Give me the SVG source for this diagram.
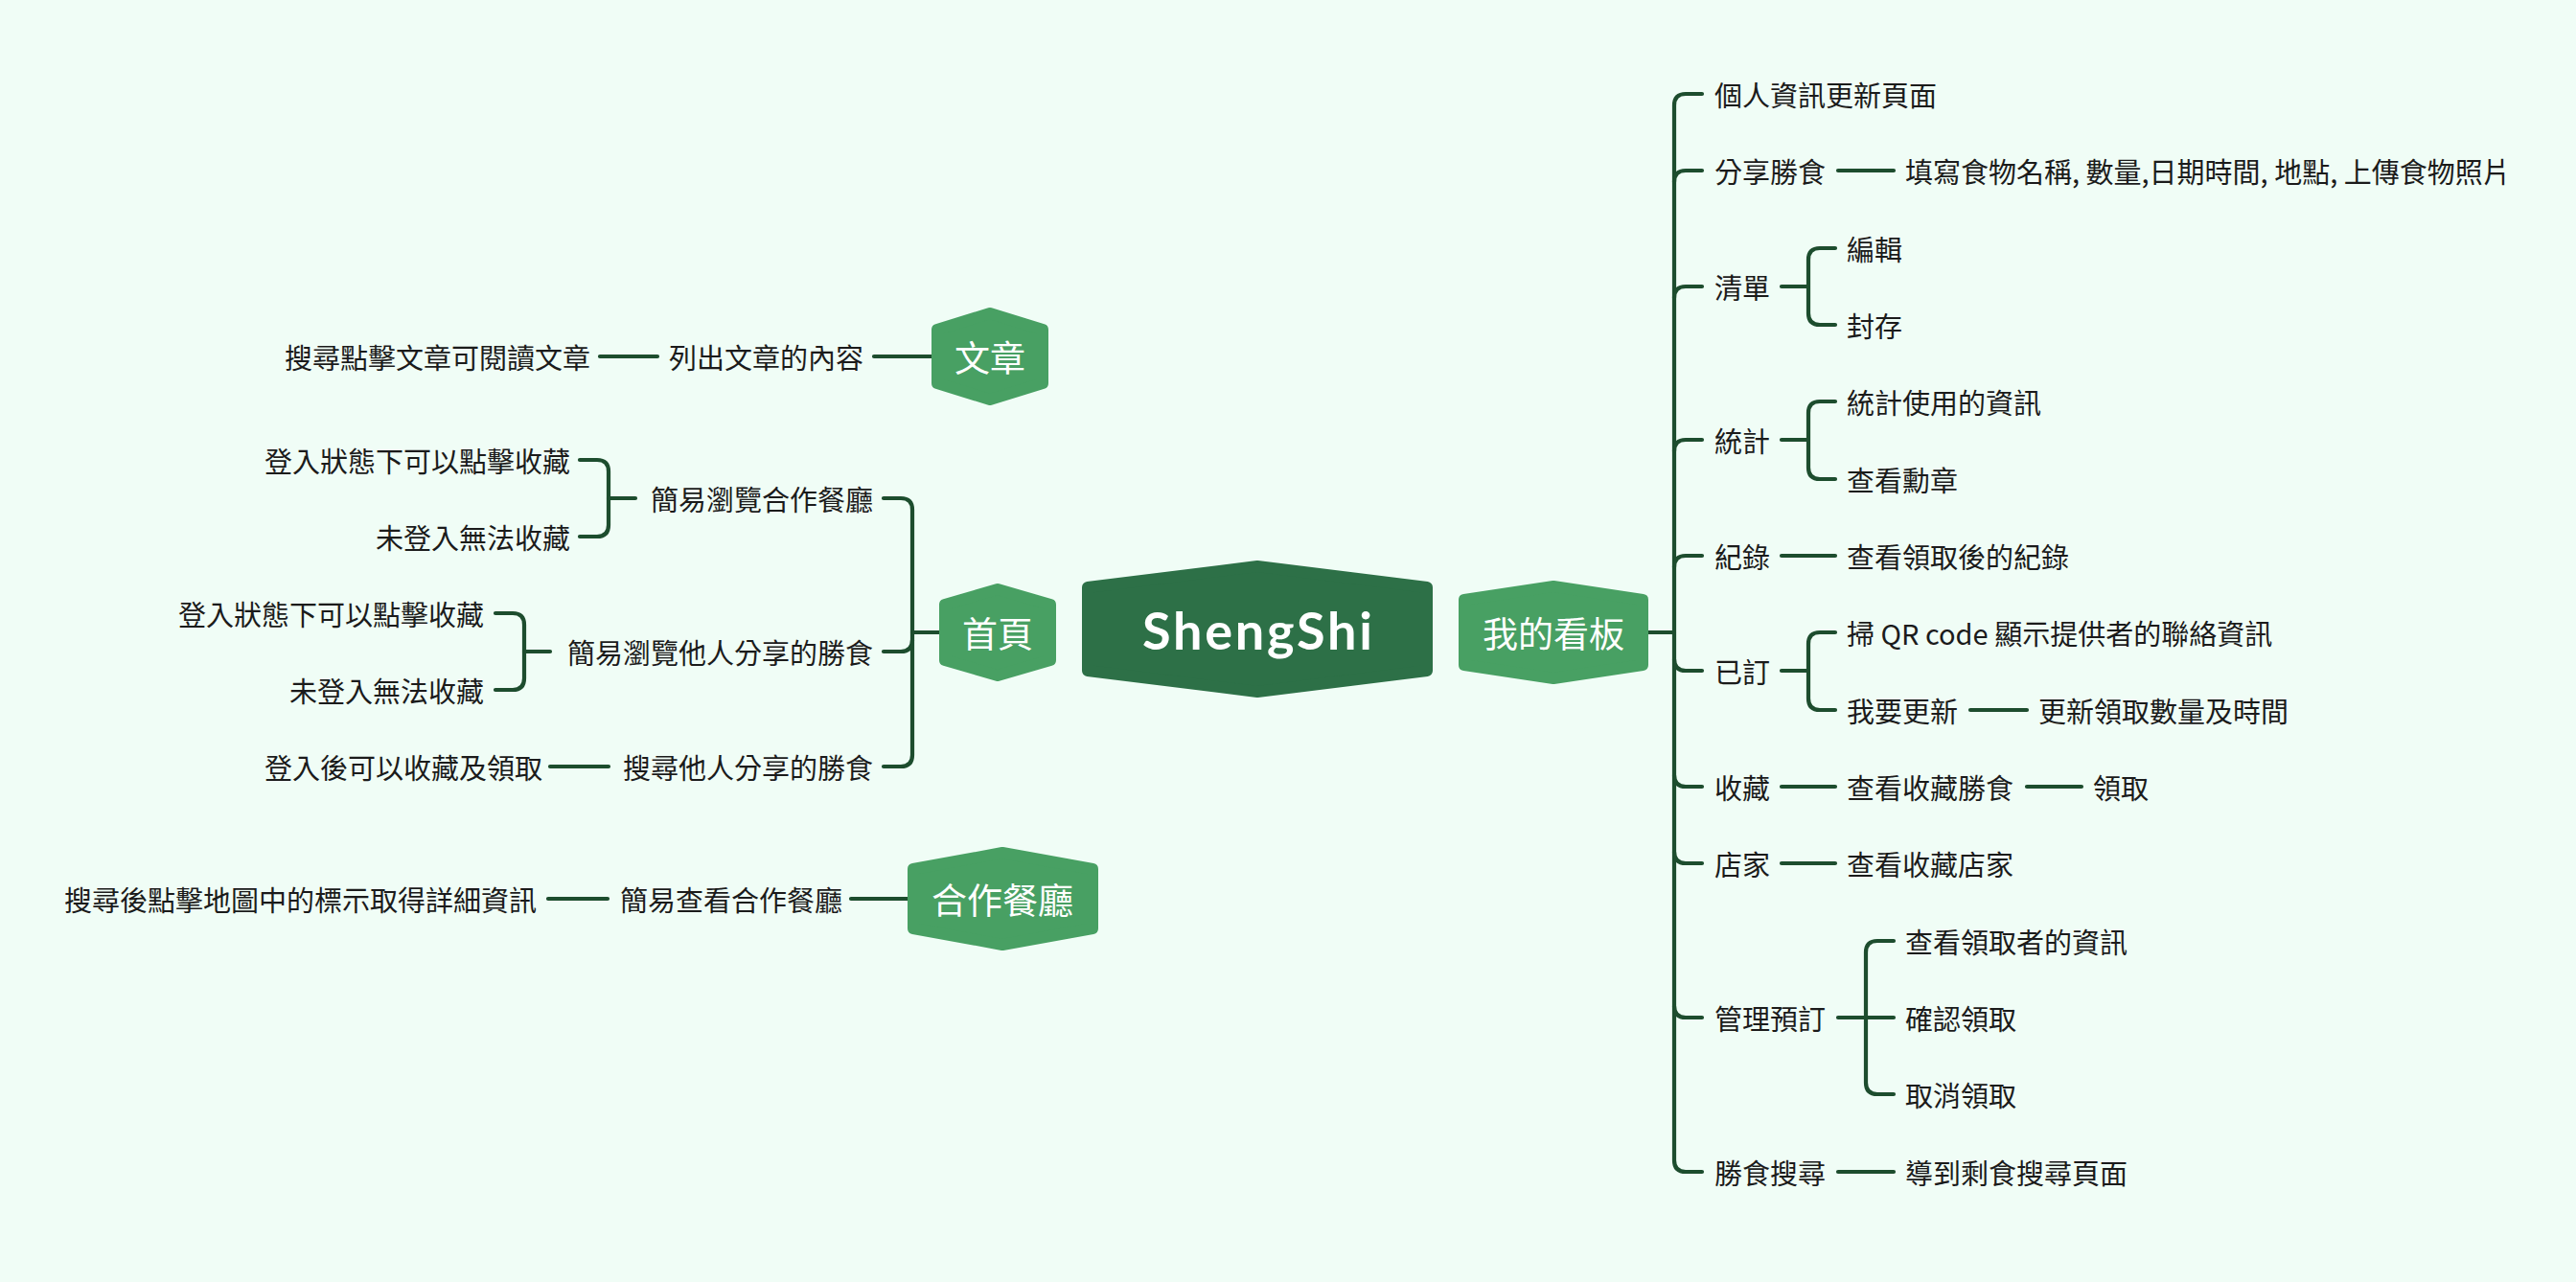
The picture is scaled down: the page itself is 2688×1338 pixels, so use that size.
<svg xmlns="http://www.w3.org/2000/svg" width="2688" height="1338" viewBox="0 0 2688 1338">
<style>
.t{font-family:"Noto Sans CJK TC","Noto Sans",sans-serif;font-size:29px;fill:#1b1b1b;dominant-baseline:central}
.e{text-anchor:end}
.c{fill:none;stroke:#1d4d2e;stroke-width:4.2;stroke-linecap:round;stroke-linejoin:round}
.m{fill:#48a063;stroke:#48a063;stroke-width:12;stroke-linejoin:round}
.mt{font-family:"Noto Sans CJK TC","Noto Sans",sans-serif;font-size:37px;fill:#ffffff;text-anchor:middle;dominant-baseline:central}
</style>
<rect width="2688" height="1338" fill="#f0fdf6"/>
<g id="connectors">
<path class="c" d="M972,372 H912 M686,372 H626"/>
<path class="c" d="M981,660 H952"/>
<path class="c" d="M922,520 H940 Q952,520 952,532 V788 Q952,800 940,800 H922"/>
<path class="c" d="M922,680 H940 Q952,680 952,668"/>
<path class="c" d="M663,520 H635"/>
<path class="c" d="M605,480 H623 Q635,480 635,492 V548 Q635,560 623,560 H605"/>
<path class="c" d="M574,680 H547"/>
<path class="c" d="M517,640 H535 Q547,640 547,652 V708 Q547,720 535,720 H517"/>
<path class="c" d="M635,800 H574"/>
<path class="c" d="M947,938 H888 M634,938 H572"/>
<path class="c" d="M1720,660 H1747"/>
<path class="c" d="M1776,98 H1759 Q1747,98 1747,110 V1211 Q1747,1223 1759,1223 H1776"/>
<path class="c" d="M1747,190 Q1747,178 1759,178 H1776"/>
<path class="c" d="M1747,311 Q1747,299 1759,299 H1776"/>
<path class="c" d="M1747,471 Q1747,459 1759,459 H1776"/>
<path class="c" d="M1747,592 Q1747,580 1759,580 H1776"/>
<path class="c" d="M1747,688 Q1747,700 1759,700 H1776"/>
<path class="c" d="M1747,809 Q1747,821 1759,821 H1776"/>
<path class="c" d="M1747,889 Q1747,901 1759,901 H1776"/>
<path class="c" d="M1747,1050 Q1747,1062 1759,1062 H1776"/>
<path class="c" d="M1918,178 H1976"/>
<path class="c" d="M1859,299 H1887 M1915,259 H1899 Q1887,259 1887,271 V327 Q1887,339 1899,339 H1915"/>
<path class="c" d="M1859,459 H1887 M1915,419 H1899 Q1887,419 1887,431 V488 Q1887,500 1899,500 H1915"/>
<path class="c" d="M1859,580 H1915"/>
<path class="c" d="M1859,700 H1887 M1915,660 H1899 Q1887,660 1887,672 V729 Q1887,741 1899,741 H1915"/>
<path class="c" d="M2056,741 H2115"/>
<path class="c" d="M1859,821 H1915 M2115,821 H2172"/>
<path class="c" d="M1859,901 H1915"/>
<path class="c" d="M1918,1062 H1976 M1976,982 H1959 Q1947,982 1947,994 V1130 Q1947,1142 1959,1142 H1976"/>
<path class="c" d="M1918,1223 H1976"/>
</g>
<g id="center">
<polygon points="1135,613 1312,591 1489,613 1489,700 1312,722 1135,700" fill="#2d7047" stroke="#2d7047" stroke-width="12" stroke-linejoin="round"/>
<text x="1312" y="657" font-family="Lato,'Open Sans',sans-serif" font-weight="700" font-size="54" fill="#ffffff" text-anchor="middle" dominant-baseline="central" textLength="240" lengthAdjust="spacing">ShengShi</text>
</g>
<g id="n-board">
<polygon class="m" points="1528,626 1621,612 1714,626 1714,694 1621,708 1528,694"/>
<text class="mt" x="1621" y="660">我的看板</text>
</g>
<g id="n-article">
<polygon class="m" points="978,344 1033,327 1088,344 1088,400 1033,417 978,400"/>
<text class="mt" x="1033" y="372">文章</text>
</g>
<g id="n-home">
<polygon class="m" points="986,631 1041,615 1096,631 1096,689 1041,705 986,689"/>
<text class="mt" x="1041" y="660">首頁</text>
</g>
<g id="n-rest">
<polygon class="m" points="953,907 1046,890 1140,907 1140,969 1046,986 953,969"/>
<text class="mt" x="1046" y="938">合作餐廳</text>
</g>
<g id="left-labels">
<g id="l1"><text class="t e" x="901" y="372">列出文章的內容</text></g>
<g id="l2"><text class="t e" x="616" y="372">搜尋點擊文章可閱讀文章</text></g>
<g id="l3"><text class="t e" x="911" y="520">簡易瀏覽合作餐廳</text></g>
<g id="l4"><text class="t e" x="595" y="480">登入狀態下可以點擊收藏</text></g>
<g id="l5"><text class="t e" x="595" y="560">未登入無法收藏</text></g>
<g id="l6"><text class="t e" x="911" y="680">簡易瀏覽他人分享的勝食</text></g>
<g id="l7"><text class="t e" x="505" y="640">登入狀態下可以點擊收藏</text></g>
<g id="l8"><text class="t e" x="505" y="720">未登入無法收藏</text></g>
<g id="l9"><text class="t e" x="911" y="800">搜尋他人分享的勝食</text></g>
<g id="l10"><text class="t e" x="566" y="800">登入後可以收藏及領取</text></g>
<g id="l11"><text class="t e" x="879" y="938">簡易查看合作餐廳</text></g>
<g id="l12"><text class="t e" x="560" y="938">搜尋後點擊地圖中的標示取得詳細資訊</text></g>
</g>
<g id="right-labels">
<g id="r1"><text class="t" x="1789" y="98">個人資訊更新頁面</text></g>
<g id="r2"><text class="t" x="1789" y="178">分享勝食</text></g>
<g id="r2a"><text class="t" x="1988" y="178">填寫食物名稱, 數量,日期時間, 地點, 上傳食物照片</text></g>
<g id="r3"><text class="t" x="1789" y="299">清單</text></g>
<g id="r3a"><text class="t" x="1927" y="259">編輯</text></g>
<g id="r3b"><text class="t" x="1927" y="339">封存</text></g>
<g id="r4"><text class="t" x="1789" y="459">統計</text></g>
<g id="r4a"><text class="t" x="1927" y="419">統計使用的資訊</text></g>
<g id="r4b"><text class="t" x="1927" y="500">查看勳章</text></g>
<g id="r5"><text class="t" x="1789" y="580">紀錄</text></g>
<g id="r5a"><text class="t" x="1927" y="580">查看領取後的紀錄</text></g>
<g id="r6"><text class="t" x="1789" y="700">已訂</text></g>
<g id="r6a"><text class="t" x="1927" y="660">掃 QR code 顯示提供者的聯絡資訊</text></g>
<g id="r6b"><text class="t" x="1927" y="741">我要更新</text></g>
<g id="r6c"><text class="t" x="2127" y="741">更新領取數量及時間</text></g>
<g id="r7"><text class="t" x="1789" y="821">收藏</text></g>
<g id="r7a"><text class="t" x="1927" y="821">查看收藏勝食</text></g>
<g id="r7b"><text class="t" x="2184" y="821">領取</text></g>
<g id="r8"><text class="t" x="1789" y="901">店家</text></g>
<g id="r8a"><text class="t" x="1927" y="901">查看收藏店家</text></g>
<g id="r9"><text class="t" x="1789" y="1062">管理預訂</text></g>
<g id="r9a"><text class="t" x="1988" y="982">查看領取者的資訊</text></g>
<g id="r9b"><text class="t" x="1988" y="1062">確認領取</text></g>
<g id="r9c"><text class="t" x="1988" y="1142">取消領取</text></g>
<g id="r10"><text class="t" x="1789" y="1223">勝食搜尋</text></g>
<g id="r10a"><text class="t" x="1988" y="1223">導到剩食搜尋頁面</text></g>
</g>
</svg>
